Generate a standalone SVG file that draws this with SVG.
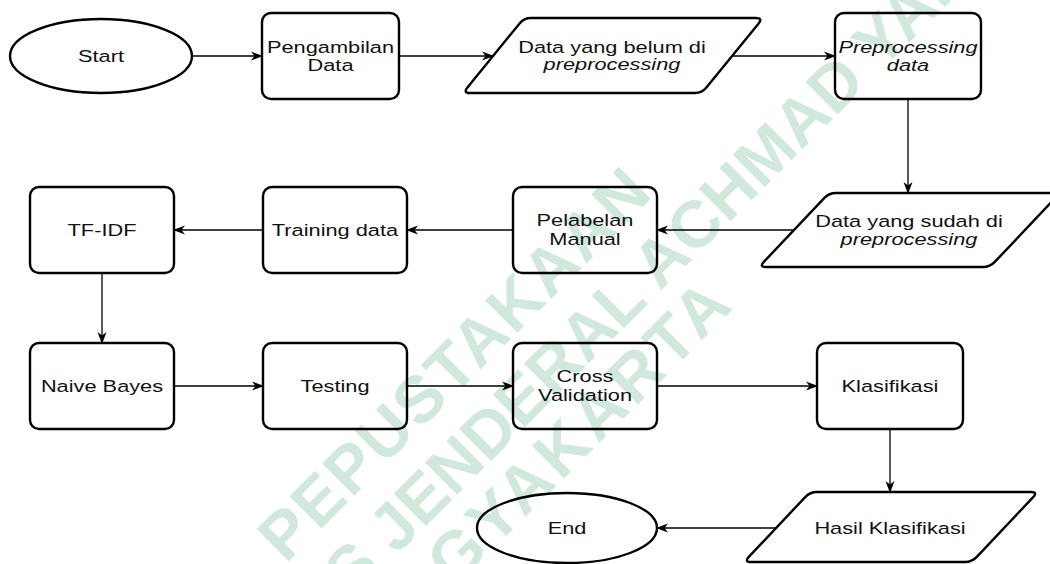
<svg xmlns="http://www.w3.org/2000/svg" width="1050" height="564" viewBox="0 0 1050 564">
<style>
.shape{fill:none;stroke:#000;stroke-width:2.4;stroke-linejoin:round}
.conn{fill:none;stroke:#000;stroke-width:1.3;marker-end:url(#ah)}
.t{font-family:"Liberation Sans",Arial,sans-serif;font-size:16.5px;fill:#111;text-anchor:middle}
.i{font-style:italic}
.wm{font-family:"Liberation Sans",Arial,sans-serif;font-weight:bold;font-size:66px;fill:#d0e9dc}
</style>
<defs>
<marker id="ah" viewBox="0 0 12 10" refX="11" refY="5" markerWidth="12" markerHeight="10" markerUnits="userSpaceOnUse" orient="auto">
<path d="M0,0.5 L12,5 L0,9.5 L3.5,5 Z" fill="#000"/>
</marker>
</defs>
<rect width="1050" height="564" fill="#fff"/>
<g id="watermark" transform="rotate(-45)">
<text class="wm" x="-197" y="601" textLength="521" lengthAdjust="spacing">PEPUSTAKAAN</text>
<text class="wm" x="-175" y="673" textLength="900" lengthAdjust="spacing">S JENDERAL ACHMAD YANI</text>
<text class="wm" x="-199" y="737" textLength="500" lengthAdjust="spacing">YOGYAKARTA</text>
</g>
<g id="connectors">
<line class="conn" x1="192" y1="56" x2="262" y2="56"/>
<line class="conn" x1="399" y1="56" x2="493" y2="56"/>
<line class="conn" x1="732" y1="56" x2="835" y2="56"/>
<line class="conn" x1="908" y1="99" x2="908" y2="193"/>
<line class="conn" x1="794" y1="230" x2="657" y2="230"/>
<line class="conn" x1="513" y1="230" x2="407" y2="230"/>
<line class="conn" x1="263" y1="230" x2="174" y2="230"/>
<line class="conn" x1="102" y1="273" x2="102" y2="343"/>
<line class="conn" x1="174" y1="386" x2="263" y2="386"/>
<line class="conn" x1="407" y1="386" x2="513" y2="386"/>
<line class="conn" x1="657" y1="386" x2="817" y2="386"/>
<line class="conn" x1="890" y1="429" x2="890" y2="492"/>
<line class="conn" x1="776" y1="528" x2="657" y2="528"/>
</g>
<g id="start">
<ellipse class="shape" cx="101" cy="56" rx="91" ry="37"/>
<text class="t" transform="translate(101,62) scale(1.32,1)">Start</text>
</g>
<g id="pengambilan">
<rect class="shape" x="262" y="13" width="137" height="86" rx="9"/>
<text class="t" transform="translate(330.5,53) scale(1.32,1)">Pengambilan</text>
<text class="t" transform="translate(330.5,71) scale(1.32,1)">Data</text>
</g>
<g id="data-belum">
<path class="shape" d="M531,18 L756,18 Q763,18 758.6,23.4 L706.4,87.6 Q702,93 695,93 L470,93 Q463,93 467.4,87.6 L519.6,23.4 Q524,18 531,18 Z"/>
<text class="t" transform="translate(612,53) scale(1.32,1)">Data yang belum di</text>
<text class="t i" transform="translate(612,70) scale(1.32,1)">preprocessing</text>
</g>
<g id="preprocessing">
<rect class="shape" x="835" y="13" width="146" height="86" rx="9"/>
<text class="t i" transform="translate(908,53) scale(1.32,1)">Preprocessing</text>
<text class="t i" transform="translate(908,71) scale(1.32,1)">data</text>
</g>
<g id="data-sudah">
<path class="shape" d="M836,193 L1053,193 Q1060,193 1055.2,198.1 L994.8,261.9 Q990,267 983,267 L766,267 Q759,267 763.8,261.9 L824.2,198.1 Q829,193 836,193 Z"/>
<text class="t" transform="translate(909,227) scale(1.32,1)">Data yang sudah di</text>
<text class="t i" transform="translate(909,245) scale(1.32,1)">preprocessing</text>
</g>
<g id="pelabelan">
<rect class="shape" x="513" y="187" width="144" height="86" rx="9"/>
<text class="t" transform="translate(585,226) scale(1.32,1)">Pelabelan</text>
<text class="t" transform="translate(585,245) scale(1.32,1)">Manual</text>
</g>
<g id="training">
<rect class="shape" x="263" y="187" width="144" height="86" rx="9"/>
<text class="t" transform="translate(335,236) scale(1.32,1)">Training data</text>
</g>
<g id="tfidf">
<rect class="shape" x="30" y="187" width="144" height="86" rx="9"/>
<text class="t" transform="translate(102,236) scale(1.32,1)">TF-IDF</text>
</g>
<g id="naive-bayes">
<rect class="shape" x="30" y="343" width="144" height="86" rx="9"/>
<text class="t" transform="translate(102,392) scale(1.32,1)">Naive Bayes</text>
</g>
<g id="testing">
<rect class="shape" x="263" y="343" width="144" height="86" rx="9"/>
<text class="t" transform="translate(335,392) scale(1.32,1)">Testing</text>
</g>
<g id="cross-validation">
<rect class="shape" x="513" y="343" width="144" height="86" rx="9"/>
<text class="t" transform="translate(585,382) scale(1.32,1)">Cross</text>
<text class="t" transform="translate(585,401) scale(1.32,1)">Validation</text>
</g>
<g id="klasifikasi">
<rect class="shape" x="817" y="343" width="146" height="86" rx="9"/>
<text class="t" transform="translate(890,392) scale(1.32,1)">Klasifikasi</text>
</g>
<g id="hasil">
<path class="shape" d="M817,492 L1031,492 Q1038,492 1033.2,497.1 L976.8,556.9 Q972,562 965,562 L751,562 Q744,562 748.8,556.9 L805.2,497.1 Q810,492 817,492 Z"/>
<text class="t" transform="translate(890,534) scale(1.32,1)">Hasil Klasifikasi</text>
</g>
<g id="end">
<ellipse class="shape" cx="567" cy="528" rx="90" ry="35"/>
<text class="t" transform="translate(567,534) scale(1.32,1)">End</text>
</g>
</svg>
